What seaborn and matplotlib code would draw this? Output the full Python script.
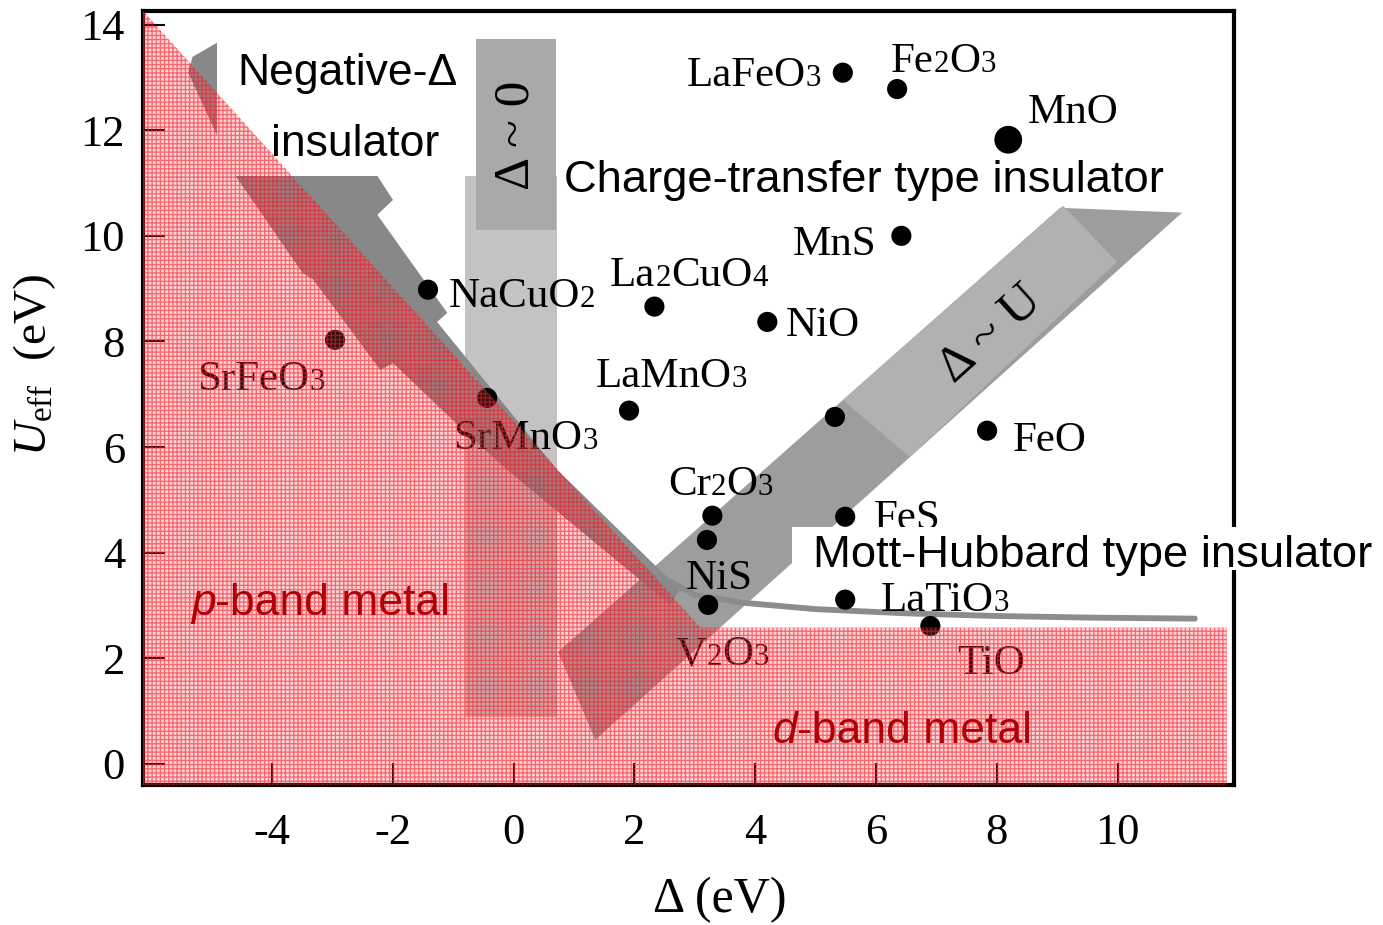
import re
import numpy as np
import pandas as pd
import matplotlib
matplotlib.use("Agg")
import matplotlib.pyplot as plt
from matplotlib.patches import Polygon, Rectangle
from matplotlib.offsetbox import TextArea, HPacker, AnnotationBbox
import seaborn as sns

# ---------------- data ----------------
compounds = ["LaFeO3", "Fe2O3", "MnO", "MnS", "NaCuO2", "La2CuO4", "NiO",
             "SrFeO3", "LaMnO3", "SrMnO3", "", "FeO", "Cr2O3", "NiS", "FeS",
             "V2O3", "LaTiO3", "TiO"]
delta_ev = [5.45, 6.35, 8.19, 6.42, -1.42, 2.33, 4.20, -2.96, 1.91, -0.44,
            5.32, 7.84, 3.29, 3.20, 5.49, 3.22, 5.49, 6.90]
u_eff_ev = [13.09, 12.78, 11.82, 10.00, 8.98, 8.66, 8.37, 8.03, 6.69, 6.93,
            6.57, 6.31, 4.70, 4.24, 4.68, 3.01, 3.11, 2.61]
large_marker = ["MnO"]

# label placement relative to each point (Δ, U offsets)
label_dx = [-1.47, 0.76, 1.08, -1.10, 1.56, 0.57, 0.92, -1.22, 0.70, 0.64,
            0.0, 1.03, 0.13, 0.20, 1.03, 0.23, 1.65, 1.00]
label_dy = [0.02, 0.59, 0.60, -0.08, -0.06, 0.66, 0.00, -0.68, 0.73, -0.70,
            0.0, -0.12, 0.66, -0.66, 0.04, -0.87, 0.05, -0.64]

# Mott-Hubbard / charge-transfer crossover curve
boundary_delta = [-0.90, -0.34, 0.50, 1.50, 2.42, 3.00, 3.80, 5.00, 6.50, 8.00, 9.50, 11.28]
boundary_u = [7.65, 6.75, 5.70, 4.60, 3.55, 3.20, 3.05, 2.93, 2.85, 2.80, 2.77, 2.75]

x_ticks = [-4, -2, 0, 2, 4, 6, 8, 10]
y_ticks = [0, 2, 4, 6, 8, 10, 12, 14]

x_range = (-6.14, 11.93)
y_range = (-0.40, 14.26)

# region outlines in (Δ, U)
metal_region = [(-6.14, 14.26), (3.09, 2.58), (11.81, 2.58), (11.81, -0.40), (-6.14, -0.40)]
neg_arrow = [(-5.39, 13.09), (-5.32, 13.39), (-4.91, 13.66), (-2.26, 11.14), (-2.00, 10.68),
             (-2.26, 10.40), (-1.10, 8.54), (-1.27, 8.37), (0.72, 5.57), (2.75, 3.30),
             (2.59, 3.01), (-0.11, 5.57), (-0.89, 6.38), (-2.00, 7.59), (-2.21, 7.46),
             (-3.32, 9.17), (-3.50, 9.30), (-4.61, 11.14)]
ct_band = [(0.735, 2.12), (9.05, 10.53), (11.07, 10.44), (1.35, 0.455)]
ct_band_light = [(5.45, 6.89), (9.10, 10.57), (9.99, 9.51), (6.56, 5.81)]
zero_band = [(-0.80, 0.89), (-0.80, 11.14), (0.72, 11.14), (0.72, 0.89)]
zero_box = [(-0.62, 10.11), (-0.62, 13.73), (0.70, 13.73), (0.70, 10.11)]

# ---------------- style ----------------
sns.set_style("ticks")
plt.rcParams["font.family"] = ["Liberation Serif", "DejaVu Serif"]
plt.rcParams["mathtext.fontset"] = "custom"
plt.rcParams["mathtext.rm"] = "Liberation Serif"
plt.rcParams["mathtext.it"] = "Liberation Serif:italic"
plt.rcParams["axes.unicode_minus"] = False
plt.rcParams["hatch.linewidth"] = 0.9
for key in ["text.color", "axes.labelcolor", "xtick.color", "ytick.color",
            "xtick.labelcolor", "ytick.labelcolor", "axes.edgecolor"]:
    plt.rcParams[key] = "black"

SANS = ["Liberation Sans", "DejaVu Sans"]
SERIF = ["Liberation Serif", "DejaVu Serif"]
RED_TEXT = "#b00006"

fig = plt.figure(figsize=(13.83, 9.25), dpi=100)
ax = fig.add_axes([0.1034, 0.1514, 0.7889, 0.8368])
ax.set_xlim(*x_range)
ax.set_ylim(*y_range)

# ---------------- guide arrows / bands ----------------
ax.add_patch(Polygon(zero_band, closed=True, facecolor="#c3c3c3", edgecolor="none", zorder=1))
ax.add_patch(Polygon(ct_band, closed=True, facecolor="#9d9d9d", edgecolor="none", zorder=1.1))
ax.add_patch(Polygon(ct_band_light, closed=True, facecolor="#b1b1b1", edgecolor="none", zorder=1.2))
ax.add_patch(Polygon(neg_arrow, closed=True, facecolor="#888888", edgecolor="none", zorder=1.3))
ax.add_patch(Polygon(zero_box, closed=True, facecolor="#a9a9a9", edgecolor="none", zorder=1.4))

ax.plot(boundary_delta, boundary_u, color="#8c8c8c", lw=4.2, solid_capstyle="round", zorder=2)

# ---------------- compounds ----------------
df = pd.DataFrame({"delta": delta_ev, "u": u_eff_ev, "name": compounds})
df["big"] = df["name"].isin(large_marker)
sns.scatterplot(data=df, x="delta", y="u", size="big", sizes={False: 210, True: 400},
                color="black", edgecolor="none", linewidth=0, legend=False, ax=ax, zorder=3)


def formula_box(name, size):
    """Chemical formula with smaller, baseline-aligned digits."""
    parts = re.findall(r"\d+|\D+", name)
    areas = [TextArea(p, textprops=dict(family=SERIF, fontsize=size * (0.72 if p.isdigit() else 1.0),
                                        color="black"))
             for p in parts]
    return HPacker(children=areas, align="baseline", pad=0, sep=0)


for name, x, y, dx, dy in zip(compounds, delta_ev, u_eff_ev, label_dx, label_dy):
    if not name:
        continue
    ab = AnnotationBbox(formula_box(name, 31), (x + dx, y + dy - 0.08), xycoords="data",
                        frameon=False, box_alignment=(0.5, 0.5), pad=0, zorder=3)
    ax.add_artist(ab)

# ---------------- region captions ----------------
ax.add_patch(Rectangle((-4.91, 11.14), 4.29, 2.52, facecolor="white", edgecolor="none", zorder=4))
ax.text(-2.76, 12.86, "Negative-Δ", family=SANS, fontsize=32, ha="center", va="baseline", zorder=5)
ax.text(-2.62, 11.52, "insulator", family=SANS, fontsize=32, ha="center", va="baseline", zorder=5)

ax.text(5.80, 10.83, "Charge-transfer type insulator", family=SANS, fontsize=32.7,
        ha="center", va="baseline", zorder=5)

ax.add_patch(Rectangle((4.61, 3.67), 10.0, 0.82, facecolor="white", edgecolor="none",
                       zorder=4, clip_on=False))
ax.text(9.58, 3.73, "Mott-Hubbard type insulator", family=SANS, fontsize=32.7,
        ha="center", va="baseline", zorder=5, clip_on=False)

ax.text(0.04, 11.91, "Δ ~ 0", family=SERIF, fontsize=37, rotation=90,
        ha="center", va="center", zorder=5)
ax.text(7.89, 8.13, "Δ ~ U", family=SERIF, fontsize=37, rotation=42,
        ha="center", va="center", rotation_mode="anchor", zorder=5)

# ---------------- metallic region (hatched overlay) ----------------
ax.add_patch(Polygon(metal_region, closed=True, facecolor=(1.0, 0.25, 0.3, 0.22),
                     edgecolor="none", lw=0, zorder=6))
ax.add_patch(Polygon(metal_region, closed=True, facecolor="none",
                     edgecolor=(0.95, 0.1, 0.15, 0.6), lw=0, hatch="++++", zorder=6.1))

ax.text(-4.94, 2.82, "p", family=SANS, style="italic", fontsize=32, color=RED_TEXT,
        ha="right", va="baseline", zorder=7)
ax.text(-4.94, 2.82, "-band metal", family=SANS, fontsize=32, color=RED_TEXT,
        ha="left", va="baseline", zorder=7)
ax.text(4.69, 0.40, "d", family=SANS, style="italic", fontsize=32, color=RED_TEXT,
        ha="right", va="baseline", zorder=7)
ax.text(4.69, 0.40, "-band metal", family=SANS, fontsize=32, color=RED_TEXT,
        ha="left", va="baseline", zorder=7)

# ---------------- axes ----------------
ax.set_xticks(x_ticks)
ax.set_yticks(y_ticks)
ax.set_xticklabels([str(t) for t in x_ticks])
ax.set_yticklabels([str(t) for t in y_ticks])
ax.tick_params(axis="x", direction="in", length=16, width=1.5, labelsize=32, pad=20,
               top=False, colors="black")
ax.tick_params(axis="y", direction="in", length=16, width=1.5, labelsize=32, pad=13,
               right=False, colors="black")
for side in ["left", "right", "top", "bottom"]:
    ax.spines[side].set_linewidth(3.0)
    ax.spines[side].set_color("black")

ax.set_xlabel("Δ (eV)", fontsize=36, color="black")
ax.xaxis.set_label_coords(0.529, -0.118)
ax.set_ylabel(r"$U_{\mathrm{eff}}$  (eV)", fontsize=34, color="black")
ax.yaxis.set_label_coords(-0.078, 0.542)

fig.savefig("out.png", dpi=100)
